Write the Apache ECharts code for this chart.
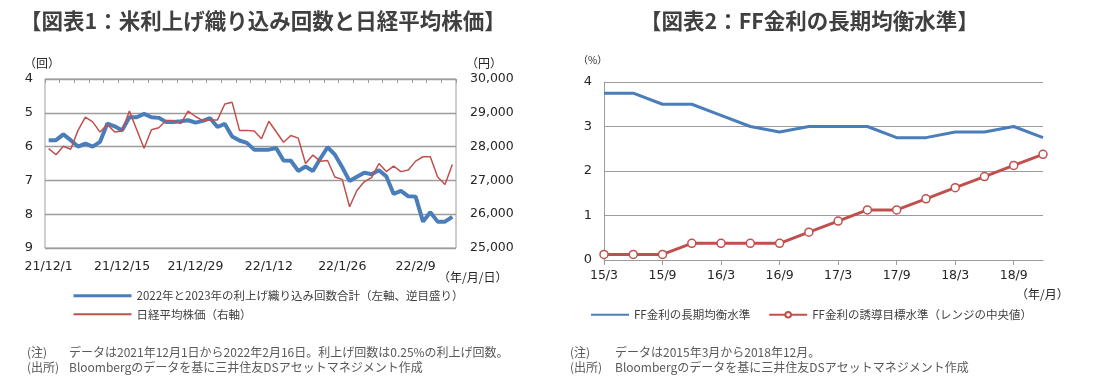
<!DOCTYPE html>
<html><head><meta charset="utf-8">
<script src="https://cdn.jsdelivr.net/npm/echarts@6/dist/echarts.min.js"></script>
<style>html,body{margin:0;padding:0;background:#fff}#c{width:1099px;height:381px}</style>
</head><body><div id="c"></div>
<script>
// ---- Chart 1 data ----
const dates1 = ['21/12/1','21/12/2','21/12/3','21/12/6','21/12/7','21/12/8','21/12/9','21/12/10','21/12/13','21/12/14',
  '21/12/15','21/12/16','21/12/17','21/12/20','21/12/21','21/12/22','21/12/23','21/12/24','21/12/27','21/12/28',
  '21/12/29','21/12/30','21/12/31','22/1/3','22/1/4','22/1/5','22/1/6','22/1/7','22/1/10','22/1/11',
  '22/1/12','22/1/13','22/1/14','22/1/17','22/1/18','22/1/19','22/1/20','22/1/21','22/1/24','22/1/25',
  '22/1/26','22/1/27','22/1/28','22/1/31','22/2/1','22/2/2','22/2/3','22/2/4','22/2/7','22/2/8',
  '22/2/9','22/2/10','22/2/11','22/2/14','22/2/15','22/2/16'];
const hikeCount = [5.81,5.81,5.64,5.81,6.00,5.91,6.00,5.86,5.32,5.40,
  5.52,5.13,5.13,5.03,5.13,5.15,5.27,5.27,5.25,5.22,
  5.29,5.24,5.16,5.42,5.33,5.70,5.82,5.89,6.09,6.09,
  6.09,6.04,6.41,6.42,6.72,6.59,6.72,6.36,6.02,6.24,
  6.61,7.02,6.89,6.77,6.82,6.70,6.88,7.40,7.31,7.47,
  7.48,8.22,7.94,8.22,8.22,8.08];
const nikkei = [27940,27760,28010,27920,28480,28870,28730,28430,28650,28430,
  28460,29050,28500,27950,28500,28560,28770,28770,28680,29050,
  28890,28770,28790,28790,29260,29310,28480,28480,28460,28230,
  28750,28440,28130,28330,28250,27500,27750,27570,27590,27100,
  27030,26220,26700,26960,27080,27500,27260,27420,27260,27310,
  27570,27700,27700,27100,26880,27470];
const name1a = '2022年と2023年の利上げ織り込み回数合計（左軸、逆目盛り）';
const name1b = '日経平均株価（右軸）';

// ---- Chart 2 data ----
const months2 = ['15/3','15/6','15/9','15/12','16/3','16/6','16/9','16/12','17/3','17/6','17/9','17/12','18/3','18/6','18/9','18/12'];
const longRun = [3.75,3.75,3.5,3.5,3.25,3.0,2.875,3.0,3.0,3.0,2.75,2.75,2.875,2.875,3.0,2.75];
const target = [0.125,0.125,0.125,0.375,0.375,0.375,0.375,0.625,0.875,1.125,1.125,1.375,1.625,1.875,2.125,2.375];
const name2a = 'FF金利の長期均衡水準';
const name2b = 'FF金利の誘導目標水準（レンジの中央値）';

const JP = '"Noto Sans CJK JP", "Noto Sans", sans-serif';
const NUM = '"DejaVu Sans", sans-serif';
const BLUE = '#4A7EBB', RED = '#C0504D', GRID = '#9c9c9c', TXT = '#262626';
const NOSYM = {color:'rgba(0,0,0,0)', borderColor:'rgba(0,0,0,0)', borderWidth:0};

function txt(x, y, s, size, opt) {
  opt = opt || {};
  return {type:'text', x:x, y:y, silent:true, style:{text:s, fontSize:size, fontFamily:opt.ff||JP,
    fontWeight:opt.fw||'normal', fill:opt.fill||'#404040', verticalAlign:'middle', align:opt.align||'left'}};
}

const chart = echarts.init(document.getElementById('c'), null, {renderer:'canvas'});
chart.setOption({
  animation:false,
  backgroundColor:'#fff',
  grid:[
    {left:45, top:79, width:411, height:169, show:true, borderColor:GRID, borderWidth:1, backgroundColor:'transparent'},
    {left:604, top:82, width:439, height:178}
  ],
  xAxis:[
    {gridIndex:0, type:'category', data:dates1, position:'top', boundaryGap:true,
     axisLine:{show:false}, axisLabel:{show:false},
     axisTick:{show:true, inside:true, interval:1, length:4, lineStyle:{color:GRID}}},
    {gridIndex:0, type:'category', data:dates1, position:'bottom', boundaryGap:true,
     axisLine:{show:false}, axisTick:{show:false},
     axisLabel:{interval:9, margin:12, fontSize:12.5, fontFamily:NUM, color:TXT}},
    {gridIndex:1, type:'category', data:months2, boundaryGap:false,
     axisLine:{show:true, lineStyle:{color:GRID, width:1}},
     axisTick:{show:true, interval:1, length:5, lineStyle:{color:GRID}},
     axisLabel:{interval:1, margin:9, fontSize:12.5, fontFamily:NUM, color:TXT}}
  ],
  yAxis:[
    {gridIndex:0, type:'value', min:4, max:9, interval:1, inverse:true, position:'left',
     axisLine:{show:false}, axisTick:{show:false},
     axisLabel:{margin:12, fontSize:13, fontFamily:NUM, color:TXT},
     splitLine:{show:true, lineStyle:{color:GRID, width:1.3}}},
    {gridIndex:0, type:'value', min:25000, max:30000, interval:1000, position:'right',
     axisLine:{show:false}, axisTick:{show:false}, splitLine:{show:false},
     axisLabel:{margin:14, fontSize:12.5, fontFamily:NUM, color:TXT,
       formatter:v => v.toLocaleString('en-US')}},
    {gridIndex:1, type:'value', min:0, max:4, interval:1,
     axisLine:{show:true, lineStyle:{color:GRID}}, axisTick:{show:false},
     axisLabel:{margin:12, fontSize:13, fontFamily:NUM, color:TXT},
     splitLine:{show:true, lineStyle:{color:GRID, width:1}}}
  ],
  legend:[
    {data:[{name:name1a, itemStyle:NOSYM, lineStyle:{width:3}}, {name:name1b, itemStyle:NOSYM, lineStyle:{width:2}}],
     orient:'vertical', left:72, top:290, padding:0, itemWidth:58, itemHeight:14, itemGap:7,
     textStyle:{fontSize:11.5, fontFamily:JP, color:'#404040'}},
    {data:[{name:name2a, itemStyle:NOSYM}, {name:name2b}], orient:'horizontal', left:590, top:309, padding:0,
     itemWidth:38, itemHeight:7, itemGap:18,
     textStyle:{fontSize:11.5, fontFamily:JP, color:'#404040'}}
  ],
  series:[
    {name:name1a, type:'line', xAxisIndex:0, yAxisIndex:0, data:hikeCount, symbol:'none', color:BLUE,
     lineStyle:{color:BLUE, width:4}},
    {name:name1b, type:'line', xAxisIndex:0, yAxisIndex:1, data:nikkei, symbol:'none', color:RED,
     lineStyle:{color:RED, width:1.5}},
    {name:name2a, type:'line', xAxisIndex:2, yAxisIndex:2, data:longRun, symbol:'none', color:BLUE,
     lineStyle:{color:BLUE, width:3}},
    {name:name2b, type:'line', xAxisIndex:2, yAxisIndex:2, data:target, symbol:'circle', symbolSize:8, color:RED,
     lineStyle:{color:RED, width:3}, itemStyle:{color:'#fff', borderColor:RED, borderWidth:1.5}}
  ],
  graphic:[
    txt(20, 21, '【図表1：米利上げ織り込み回数と日経平均株価】', 21.5, {fw:'bold', fill:'#404040'}),
    txt(640, 21, '【図表2：FF金利の長期均衡水準】', 21.5, {fw:'bold', fill:'#404040'}),
    txt(24, 63, '（回）', 12, {fill:TXT}),
    txt(466, 63, '（円）', 12, {fill:TXT}),
    txt(438, 277, '（年/月/日）', 12, {fill:TXT}),
    txt(578, 60, '（%）', 10, {fill:TXT}),
    txt(1016, 294, '（年/月）', 12, {fill:TXT}),
    txt(27, 352, '(注)', 12, {fill:'#595959'}),
    txt(69, 352, 'データは2021年12月1日から2022年2月16日。利上げ回数は0.25%の利上げ回数。', 12, {fill:'#595959'}),
    txt(27, 367, '(出所)', 12, {fill:'#595959'}),
    txt(69, 367, 'Bloombergのデータを基に三井住友DSアセットマネジメント作成', 12, {fill:'#595959'}),
    txt(570, 352, '(注)', 12, {fill:'#595959'}),
    txt(615, 352, 'データは2015年3月から2018年12月。', 12, {fill:'#595959'}),
    txt(570, 367, '(出所)', 12, {fill:'#595959'}),
    txt(615, 367, 'Bloombergのデータを基に三井住友DSアセットマネジメント作成', 12, {fill:'#595959'})
  ]
});
</script></body></html>
